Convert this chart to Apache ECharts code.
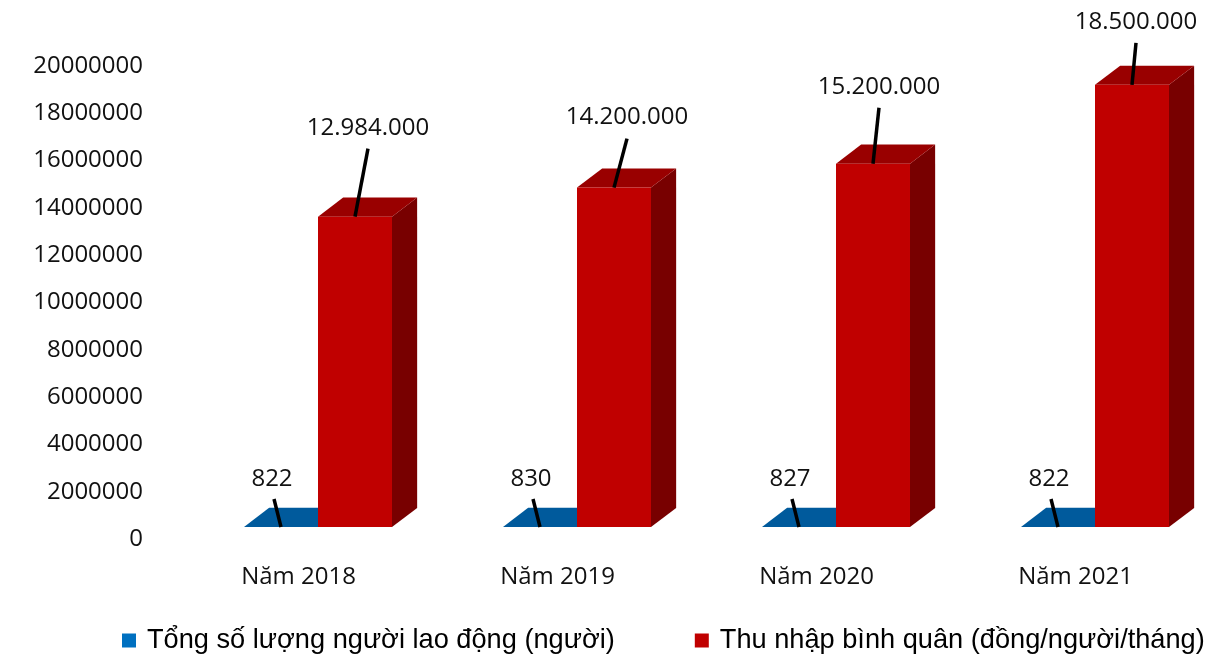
<!DOCTYPE html>
<html>
<head>
<meta charset="utf-8">
<script src="https://cdn.jsdelivr.net/npm/echarts@6/dist/echarts.min.js"></script>
<style>
  html, body { margin: 0; padding: 0; background: #ffffff; }
  #chart { width: 1227px; height: 660px; }
</style>
</head>
<body>
<div id="chart"></div>
<script>
// Số liệu lao động và thu nhập theo năm
const categories = ['Năm 2018', 'Năm 2019', 'Năm 2020', 'Năm 2021'];
const workers = [822, 830, 827, 822];
const income = [12984000, 14200000, 15200000, 18500000];
const seriesNames = ['Tổng số lượng người lao động (người)', 'Thu nhập bình quân (đồng/người/tháng)'];
const yTicks = { min: 0, max: 20000000, step: 2000000 };

// Leader-line ends for the income labels, relative to the top-front centre of each bar
const incomeLeaders = [[13, -68], [13, -49], [6, -56], [4, -42]];
const workerLeader = [-7, -28];

const FONT = '"Open Sans", "Noto Sans", sans-serif';
const TEXT = '#111111';

const faces = {
  worker: { front: '#005a9c', top: '#005a9c', side: '#004a80' },
  income: { front: '#c00000', top: '#990000', side: '#780000' }
};

function dotted(v) {
  return String(v).replace(/\B(?=(\d{3})+(?!\d))/g, '.');
}

// Draws one 3D block (front, top and side faces) plus its leader line and label
function makeRenderer(kind) {
  return function (params, api) {
    const cat = api.value(0);
    const val = api.value(1);
    const top = api.coord([cat, val]);
    const base = api.coord([cat, 0]);
    const band = api.size([1, 0])[0];
    const w = band * 0.2857;
    const dx = w * 0.34;
    const dy = -dx * 0.76;
    const x = kind === 'worker' ? top[0] - w : top[0];
    const ty = top[1];
    const by = base[1];
    const c = faces[kind];
    const children = [
      { type: 'polygon', shape: { points: [[x + w, ty], [x + w + dx, ty + dy], [x + w + dx, by + dy], [x + w, by]] }, style: { fill: c.side } },
      { type: 'polygon', shape: { points: [[x, ty], [x + dx, ty + dy], [x + w + dx, ty + dy], [x + w, ty]] }, style: { fill: c.top } },
      { type: 'rect', shape: { x: x, y: ty, width: w, height: Math.max(by - ty, 0) }, style: { fill: c.front } }
    ];
    const sx = x + w / 2;
    let ex, ey, lx, ly;
    if (kind === 'income') {
      const off = incomeLeaders[params.dataIndex];
      ex = sx + off[0]; ey = ty + off[1];
      lx = ex; ly = ey - 21;
    } else {
      ex = sx + workerLeader[0]; ey = by + workerLeader[1];
      lx = sx - 9; ly = by - 48;
    }
    children.push({ type: 'line', shape: { x1: sx, y1: (kind === 'income' ? ty : by), x2: ex, y2: ey }, style: { stroke: '#000000', lineWidth: 3.5 } });
    children.push({
      type: 'text',
      style: {
        x: lx, y: ly, text: kind === 'income' ? dotted(val) : String(val),
        fill: TEXT, font: '24px ' + FONT, align: 'center', verticalAlign: 'middle'
      }
    });
    return { type: 'group', children: children };
  };
}

const chart = echarts.init(document.getElementById('chart'), null, { renderer: 'canvas' });

chart.setOption({
  backgroundColor: '#ffffff',
  animation: false,
  grid: [
    { left: 169, right: 22, top: 66, bottom: 121 },
    { left: 188.5, right: 2.5, top: 49, bottom: 133 }
  ],
  xAxis: [
    {
      type: 'category', gridIndex: 0, data: categories,
      axisLine: { show: false }, axisTick: { show: false },
      axisLabel: { color: TEXT, fontFamily: FONT, fontSize: 24, margin: 26 }
    },
    {
      type: 'category', gridIndex: 1, data: categories, show: false
    }
  ],
  yAxis: [
    {
      type: 'value', gridIndex: 0, min: yTicks.min, max: yTicks.max, interval: yTicks.step,
      axisLine: { show: false }, axisTick: { show: false }, splitLine: { show: false },
      axisLabel: { color: TEXT, fontFamily: FONT, fontSize: 24, margin: 26, formatter: v => String(v) }
    },
    {
      type: 'value', gridIndex: 1, min: yTicks.min, max: yTicks.max, interval: yTicks.step, show: false,
      splitLine: { show: false }
    }
  ],
  legend: {
    left: 122, top: 627, width: 1100, padding: 0,
    itemWidth: 14, itemHeight: 14, itemGap: 80,
    icon: 'rect',
    textStyle: { color: '#000000', fontFamily: '"Liberation Sans", Arial, sans-serif', fontSize: 27.2, padding: [0, 0, 0, 6] },
    data: [
      { name: seriesNames[0], itemStyle: { color: '#0070c0' } },
      { name: seriesNames[1], itemStyle: { color: '#c00000' } }
    ]
  },
  series: [
    {
      name: seriesNames[0], type: 'custom', xAxisIndex: 1, yAxisIndex: 1,
      itemStyle: { color: '#0070c0' },
      renderItem: makeRenderer('worker'),
      encode: { x: 0, y: 1 },
      data: workers.map((v, i) => [i, v])
    },
    {
      name: seriesNames[1], type: 'custom', xAxisIndex: 1, yAxisIndex: 1,
      itemStyle: { color: '#c00000' },
      renderItem: makeRenderer('income'),
      encode: { x: 0, y: 1 },
      data: income.map((v, i) => [i, v])
    }
  ]
});
</script>
</body>
</html>
